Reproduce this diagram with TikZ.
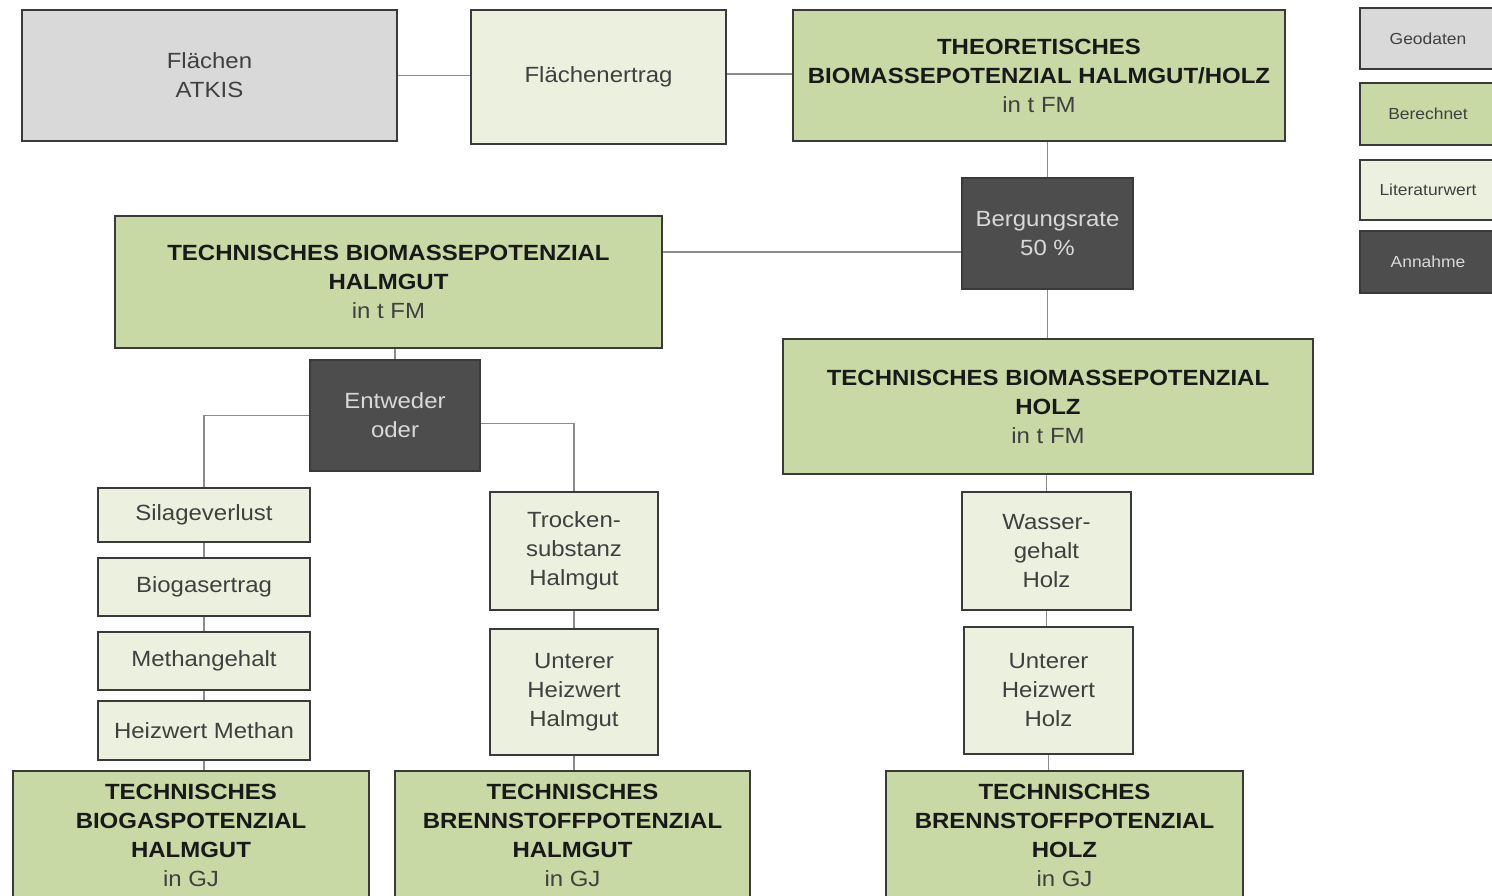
\documentclass[tikz,border=0pt]{standalone}
\usepackage{fontspec}
\setmainfont{Liberation Sans}[FakeStretch=1.09]
\usetikzlibrary{positioning}

\definecolor{geogray}{HTML}{D9D9D9}
\definecolor{calcgreen}{HTML}{C9D9A5}
\definecolor{litgreen}{HTML}{EBF1DE}
\definecolor{assumegray}{HTML}{4D4D4D}
\definecolor{framegray}{HTML}{3A3A3A}
\definecolor{linkgray}{HTML}{8C8C8C}
\definecolor{textgray}{HTML}{404040}

\newcommand{\ttl}[1]{{\bfseries\color{black!90}#1}}

\begin{document}
\begin{tikzpicture}[
    x=1pt, y=-1pt,
    every node/.style={draw=framegray, line width=2pt, align=center, inner sep=0pt,
        font=\fontsize{22}{29}\selectfont, text=textgray},
    geo/.style={fill=geogray},
    calc/.style={fill=calcgreen},
    lit/.style={fill=litgreen},
    assume/.style={fill=assumegray, text=geogray},
    legend/.style={minimum width=136pt, font=\fontsize{16}{18}\selectfont},
    link/.style={draw=linkgray, line width=1.5pt}
]
\useasboundingbox (0,0) rectangle (1492,896);

% Top row
\node[geo, minimum width=375pt, minimum height=131pt] (atkis) at (209.5,75.5) {Flächen\\ATKIS};
\node[lit, minimum width=255pt, minimum height=134pt] (ertrag) at (598.5,77) {Flächenertrag};
\node[calc, minimum width=492pt, minimum height=131pt] (theo) at (1039,75.5)
    {\ttl{THEORETISCHES}\\\ttl{BIOMASSEPOTENZIAL HALMGUT/HOLZ}\\in t FM};

% Technical potentials
\node[assume, minimum width=171pt, minimum height=111pt] (berg) at (1047.5,233.5) {Bergungsrate\\50 \%};
\node[calc, minimum width=547pt, minimum height=132pt] (tech_halm) at (388.5,282)
    {\ttl{TECHNISCHES BIOMASSEPOTENZIAL}\\\ttl{HALMGUT}\\in t FM};
\node[calc, minimum width=530pt, minimum height=135pt] (tech_holz) at (1048,406.5)
    {\ttl{TECHNISCHES BIOMASSEPOTENZIAL}\\\ttl{HOLZ}\\in t FM};
\node[assume, minimum width=170pt, minimum height=111pt] (entw) at (395,415.5) {Entweder\\oder};

% Biogas path
\node[lit, minimum width=212pt, minimum height=54pt] (silage) at (204,515) {Silageverlust};
\node[lit, minimum width=212pt, minimum height=58pt, below=14pt of silage] (biogas) {Biogasertrag};
\node[lit, minimum width=212pt, minimum height=58pt, below=14pt of biogas] (methan) {Methangehalt};
\node[lit, minimum width=212pt, minimum height=59pt, below=9pt of methan] (heizmeth) {Heizwert Methan};

% Fuel path Halmgut
\node[lit, minimum width=168pt, minimum height=118pt] (trocken) at (574,551) {Trocken-\\substanz\\Halmgut};
\node[lit, minimum width=168pt, minimum height=126pt, below=17pt of trocken] (hu_halm) {Unterer\\Heizwert\\Halmgut};

% Fuel path Holz
\node[lit, minimum width=169pt, minimum height=118pt] (wasser) at (1046.5,551) {Wasser-\\gehalt\\Holz};
\node[lit, minimum width=169pt, minimum height=127pt] (hu_holz) at (1048.5,690.5) {Unterer\\Heizwert\\Holz};

% Results
\node[calc, minimum width=356pt, minimum height=129pt] (bgp_halm) at (191,835.5)
    {\ttl{TECHNISCHES}\\\ttl{BIOGASPOTENZIAL}\\\ttl{HALMGUT}\\in GJ};
\node[calc, minimum width=355pt, minimum height=129pt] (bsp_halm) at (572.5,835.5)
    {\ttl{TECHNISCHES}\\\ttl{BRENNSTOFFPOTENZIAL}\\\ttl{HALMGUT}\\in GJ};
\node[calc, minimum width=357pt, minimum height=129pt] (bsp_holz) at (1064.5,835.5)
    {\ttl{TECHNISCHES}\\\ttl{BRENNSTOFFPOTENZIAL}\\\ttl{HOLZ}\\in GJ};

% Legend
\node[geo, legend, minimum height=61pt] (leg_geo) at (1428,38.5) {Geodaten};
\node[calc, legend, minimum height=62pt] (leg_calc) at (1428,114) {Berechnet};
\node[lit, legend, minimum height=60pt] (leg_lit) at (1428,190) {Literaturwert};
\node[assume, legend, minimum height=62pt] (leg_assume) at (1428,262) {Annahme};

% Connectors
\draw[link] (atkis.east) -- (atkis.east -| ertrag.west);
\draw[link] ([yshift=3pt]ertrag.east) -- ([yshift=3pt]ertrag.east -| theo.west);
\draw[link] (theo.south -| berg.north) -- (berg.north);
\draw[link] ([yshift=-18.5pt]berg.west) -- ([yshift=-18.5pt]berg.west -| tech_halm.east);
\draw[link] (berg.south) -- (berg.south |- tech_holz.north);
\draw[link] (tech_halm.south -| entw.north) -- (entw.north);
\draw[link] (entw.west) -| (silage.north);
\draw[link] ([yshift=-8pt]entw.east) -| (trocken.north);
\draw[link] (silage) -- (biogas);
\draw[link] (biogas) -- (methan);
\draw[link] (methan) -- (heizmeth);
\draw[link] (heizmeth.south) -- (heizmeth.south |- bgp_halm.north);
\draw[link] (trocken) -- (hu_halm);
\draw[link] (hu_halm.south) -- (hu_halm.south |- bsp_halm.north);
\draw[link] (wasser.north |- tech_holz.south) -- (wasser.north);
\draw[link] (wasser.south) -- (wasser.south |- hu_holz.north);
\draw[link] (hu_holz.south) -- (hu_holz.south |- bsp_holz.north);

\end{tikzpicture}
\end{document}
